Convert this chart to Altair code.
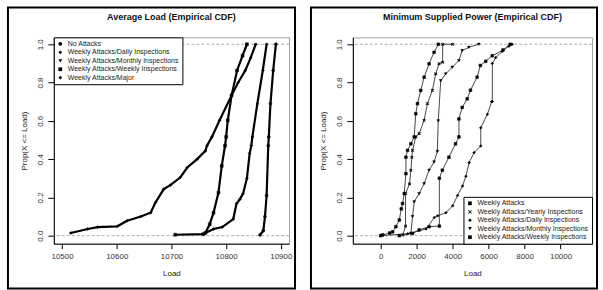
import altair as alt
import pandas as pd

FONT = "Liberation Sans"

# ---------------- Left panel: Average Load ----------------
L_TITLE = "Average Load (Empirical CDF)"
L_NAMES = ["No Attacks", "Weekly Attacks/Daily Inspections",
           "Weekly Attacks/Monthly Inspections", "Weekly Attacks/Weekly Inspections",
           "Weekly Attacks/Major"]
L_SHAPES = ["circle", "diamond", "triangle-down", "square", "diamond"]

L_MAJOR_X = [10516, 10547, 10565, 10601, 10619, 10644, 10662, 10671, 10686, 10698, 10716,
             10729, 10747, 10762, 10765, 10774, 10788, 10810, 10822, 10835, 10845, 10854]
L_MAJOR_Y = [0.014, 0.035, 0.045, 0.049, 0.078, 0.10, 0.12, 0.174, 0.243, 0.264, 0.304,
             0.356, 0.40, 0.443, 0.47, 0.516, 0.603, 0.733, 0.80, 0.863, 0.93, 1.0]
L_WEEKLY_X = [10707, 10758, 10762, 10770, 10777, 10786, 10792, 10798, 10800, 10803, 10810,
              10820, 10830, 10838]
L_WEEKLY_Y = [0.005, 0.008, 0.014, 0.06, 0.12, 0.225, 0.365, 0.47, 0.516, 0.603, 0.733,
              0.863, 0.94, 1.0]
L_DAILY_X = [10762, 10777, 10793, 10813, 10819, 10825, 10831, 10838, 10843, 10846, 10848,
             10857, 10867, 10874]
L_DAILY_Y = [0.014, 0.035, 0.045, 0.087, 0.168, 0.19, 0.22, 0.30, 0.43, 0.47, 0.516,
             0.689, 0.863, 1.0]
L_NONE_X = [10862, 10868, 10871, 10874, 10877, 10878, 10881, 10886, 10891]
L_NONE_Y = [0.004, 0.026, 0.10, 0.21, 0.47, 0.516, 0.689, 0.863, 1.0]

L_TICKS_X = [10500, 10600, 10700, 10800, 10900]
Y_TICKS = [0.0, 0.2, 0.4, 0.6, 0.8, 1.0]

# ---------------- Right panel: Minimum Supplied Power ----------------
R_TITLE = "Minimum Supplied Power (Empirical CDF)"
R_NAMES = ["Weekly Attacks", "Weekly Attacks/Yearly Inspections",
           "Weekly Attacks/Daily Inspections", "Weekly Attacks/Monthly Inspections",
           "Weekly Attacks/Weekly Inspections"]
X_SHAPE = ("M-1,-0.7L-0.7,-1L0,-0.3L0.7,-1L1,-0.7L0.3,0L1,0.7L0.7,1L0,0.3"
           "L-0.7,1L-1,0.7L-0.3,0Z")
R_SHAPES = ["square", X_SHAPE, "diamond", "triangle-down", "square"]

R_NONE_X = [0, 110, 500, 663, 845, 1033, 1143, 1215, 1309, 1400, 1400, 1492, 1676, 1862,
            1950, 2044, 2226, 2414, 2690, 2967, 3204]
R_NONE_Y = [0.0, 0.004, 0.014, 0.02, 0.047, 0.082, 0.14, 0.168, 0.22, 0.324, 0.41, 0.446,
            0.48, 0.516, 0.637, 0.69, 0.759, 0.828, 0.898, 0.958, 1.0]
R_YEARLY_X = [1232, 1381, 1381, 1602, 1676, 1730, 1768, 1950, 2138, 2414, 2597, 2873,
              3057, 3240, 3444, 3444, 4000]
R_YEARLY_Y = [0.004, 0.05, 0.22, 0.27, 0.342, 0.41, 0.446, 0.516, 0.533, 0.603, 0.69,
              0.759, 0.845, 0.898, 0.906, 1.0, 1.0]
R_MONTHLY_X = [1676, 1768, 1862, 2138, 2414, 2690, 2967, 3149, 3200, 3337, 3613, 3978,
               4348, 4530, 4900, 5453]
R_MONTHLY_Y = [0.012, 0.10, 0.177, 0.22, 0.272, 0.342, 0.385, 0.44, 0.60, 0.81, 0.845,
               0.88, 0.915, 0.967, 0.984, 1.0]
R_WEEKLY_X = [1033, 1768, 2138, 2690, 3260, 3260, 3425, 3793, 4160, 4348, 4348, 4530,
              4807, 4990, 5359, 5541, 5840, 6200, 6800, 7200]
R_WEEKLY_Y = [0.0, 0.012, 0.03, 0.047, 0.05, 0.30, 0.342, 0.41, 0.48, 0.516, 0.61, 0.67,
              0.715, 0.76, 0.828, 0.889, 0.911, 0.94, 0.97, 1.0]
R_DAILY_X = [0, 1500, 2523, 2983, 3166, 3628, 4000, 4273, 4550, 4735, 4917, 5193, 5563,
             5563, 5930, 6170, 6206, 6206, 6390, 6760, 7127, 7310]
R_DAILY_Y = [0.0, 0.01, 0.035, 0.095, 0.104, 0.12, 0.156, 0.21, 0.26, 0.31, 0.382, 0.434,
             0.469, 0.564, 0.634, 0.70, 0.70, 0.90, 0.93, 0.963, 0.99, 1.0]

R_TICKS_X = [0, 2000, 4000, 6000, 8000, 10000]


def long_df(series):
    rows = []
    for name, xs, ys in series:
        for i, (x, y) in enumerate(zip(xs, ys)):
            rows.append({"series": name, "x": x, "y": y, "i": i})
    return pd.DataFrame(rows)


df_left = long_df([
    ("No Attacks", L_NONE_X, L_NONE_Y),
    ("Weekly Attacks/Daily Inspections", L_DAILY_X, L_DAILY_Y),
    ("Weekly Attacks/Weekly Inspections", L_WEEKLY_X, L_WEEKLY_Y),
    ("Weekly Attacks/Major", L_MAJOR_X, L_MAJOR_Y),
])
df_right = long_df([
    ("Weekly Attacks", R_NONE_X, R_NONE_Y),
    ("Weekly Attacks/Yearly Inspections", R_YEARLY_X, R_YEARLY_Y),
    ("Weekly Attacks/Monthly Inspections", R_MONTHLY_X, R_MONTHLY_Y),
    ("Weekly Attacks/Weekly Inspections", R_WEEKLY_X, R_WEEKLY_Y),
    ("Weekly Attacks/Daily Inspections", R_DAILY_X, R_DAILY_Y),
])

Y_SCALE = alt.Scale(domain=[-0.0417, 1.036], nice=False, zero=False)


def y_enc():
    return alt.Y("y:Q", scale=Y_SCALE,
                 axis=alt.Axis(values=Y_TICKS, format=".1f", labelAngle=270,
                               labelAlign="center", labelBaseline="bottom",
                               tickSize=6, labelPadding=3, title="Prop(X <= Load)",
                               titlePadding=8))


def panel(df, names, shapes, xdomain, xticks, title, legend_orient, width, box,
          lw, lcolor, ptsize):
    xenc = alt.X("x:Q", scale=alt.Scale(domain=xdomain, nice=False, zero=False),
                 axis=alt.Axis(values=xticks, format="d", tickSize=5, labelPadding=4,
                               title="Load", titlePadding=9))
    refs = alt.Chart(pd.DataFrame({"y": [0.0, 1.0]})).mark_rule(
        color="#9a9a9a", strokeDash=[3, 2], strokeWidth=0.8).encode(y=y_enc())
    lines = alt.Chart(df).mark_line(color=lcolor, strokeWidth=lw).encode(
        x=xenc, y=y_enc(), detail="series:N", order="i:Q")
    pts = alt.Chart(df).mark_point(filled=True, fill="black", stroke="black",
                                   strokeWidth=0.6, size=ptsize, opacity=1).encode(
        x=xenc, y=y_enc(),
        shape=alt.Shape("series:N", scale=alt.Scale(domain=names, range=shapes),
                        legend=alt.Legend(orient=legend_orient, offset=0, title=None,
                                          labelFontSize=7, labelFont=FONT,
                                          symbolSize=14, symbolStrokeWidth=0.6,
                                          symbolStrokeColor="black",
                                          rowPadding=0.5, padding=3, labelLimit=300,
                                          strokeColor="black", fillColor="white",
                                          labelColor="#222")))
    ttl = alt.Chart(pd.DataFrame({"t": [title]})).mark_text(
        font=FONT, fontSize=9, fontWeight="bold", color="#111", baseline="middle").encode(
        text="t:N", x=alt.value(width / 2), y=alt.value(-20))
    frame = alt.Chart(pd.DataFrame({"a": [0]})).mark_rect(
        fillOpacity=0, stroke="black", strokeWidth=2).encode(
        x=alt.value(box[0]), x2=alt.value(box[1]), y=alt.value(box[2]), y2=alt.value(box[3]))
    return alt.layer(refs, lines, pts, ttl, frame).properties(width=width, height=207)


left = panel(df_left, L_NAMES, L_SHAPES, [10485, 10915], L_TICKS_X,
             L_TITLE, "top-left", 236, (-46, 242, -30, 252), 2.2, "black", 8)
right = panel(df_right, R_NAMES, R_SHAPES, [-1550, 11750], R_TICKS_X,
              R_TITLE, "bottom-right", 240, (-42, 245, -30, 252), 0.9, "#333", 7)

chart = alt.hconcat(left, right, spacing=64, bounds="flush").resolve_scale(
    shape="independent", x="independent").properties(
    padding={"left": 6, "top": 5, "right": 4, "bottom": 1},
    background="white",
).configure_view(stroke="#a0a0a0", strokeWidth=1).configure_axis(
    grid=False, domainColor="black", tickColor="black", labelColor="#333",
    labelFontSize=8, titleFontSize=8, titleFontWeight="normal", labelFont=FONT,
    titleFont=FONT, titleColor="#222")

chart.save("out.html", embed_options={"renderer": "svg", "actions": False})
